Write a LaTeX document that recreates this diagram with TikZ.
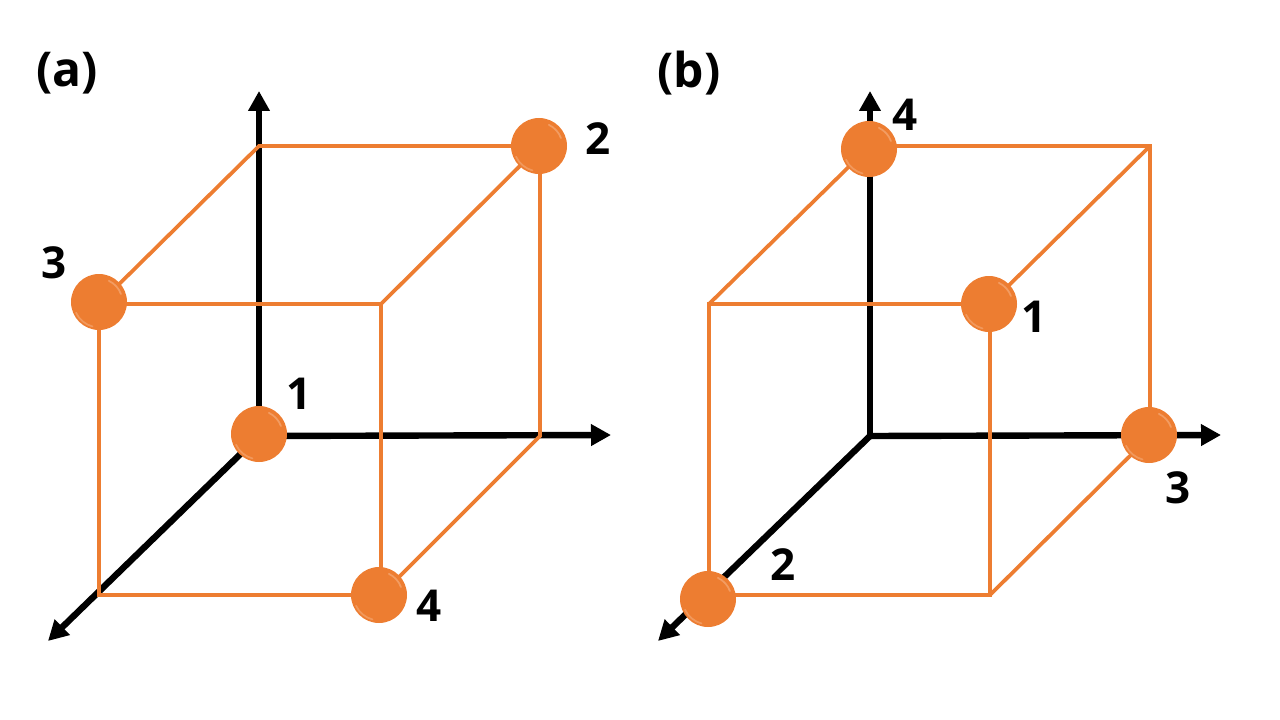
\documentclass[tikz,border=0pt]{standalone}
\usepackage{fontspec}
\setmainfont{Open Sans}
\usetikzlibrary{arrows.meta}
\definecolor{cubeorange}{RGB}{237,125,49}
\definecolor{ballhi}{RGB}{245,170,120}
\tikzset{
  px/.style={x=0.75pt,y=-0.75pt},
  axis/.style={draw=black,line width=4.8pt,-{Triangle[length=15pt,width=15.5pt]}},
  edge/.style={draw=cubeorange,line width=2.8pt,line join=miter},
  ball/.style={circle,fill=cubeorange,minimum size=42pt,inner sep=0pt,outer sep=0pt,
    path picture={
      \draw[ballhi,line width=1.3pt,opacity=.7,line cap=round] (path picture bounding box.center)
        ++(20:17.5pt) arc[start angle=20,end angle=65,radius=17.5pt];
      \draw[ballhi,line width=1.3pt,opacity=.6,line cap=round] (path picture bounding box.center)
        ++(205:19pt) arc[start angle=205,end angle=255,radius=19pt];
    }},
  lab/.style={font=\fontsize{33pt}{36pt}\selectfont\bfseries,text=black,inner sep=0pt},
  head/.style={font=\fontsize{36pt}{40pt}\selectfont\bfseries,text=black,inner sep=0pt}
}
\begin{document}
\begin{tikzpicture}[px]
\useasboundingbox (0,0) rectangle (1280,720);
% ---------- panel (a)
\coordinate (ao) at (259,436);
\coordinate (au) at (259,91);
\coordinate (ar) at (611,435);
\coordinate (ad) at (48,641);
\coordinate (aA) at (99,304);
\coordinate (aB) at (381,304);
\coordinate (aC) at (381,595);
\coordinate (aD) at (99,595);
\coordinate (aE) at (259,146);
\coordinate (aF) at (540,146);
\coordinate (aG) at (540,436);
\draw[axis] (ao) -- (au);
\draw[axis] (ao) -- (ar);
\draw[axis] (ao) -- (ad);
\draw[edge] (aA) -- (aB) -- (aC) -- (aD) -- cycle;
\draw[edge] (aA) -- (aE) -- (aF) -- (aG) -- (aC);
\draw[edge] (aB) -- (aF);
\node[ball] (a1) at (259,434) {};
\node[ball] (a2) at (539,146) {};
\node[ball] (a3) at (99,302) {};
\node[ball] (a4) at (379,595) {};
\node[lab] (la1) at (299,394) {1};
\node[lab] (la2) at (598,139) {2};
\node[lab] (la3) at (54,263) {3};
\node[lab] (la4) at (429,606) {4};
\node[head] (ta) at (67,73) {(a)};
% ---------- panel (b)
\coordinate (bo) at (870,436);
\coordinate (bu) at (870,91);
\coordinate (br) at (1221,435);
\coordinate (bd) at (658,641);
\coordinate (bA) at (709,304);
\coordinate (bB) at (990,304);
\coordinate (bC) at (990,595);
\coordinate (bD) at (709,595);
\coordinate (bE) at (870,146);
\coordinate (bF) at (1150,146);
\coordinate (bG) at (1150,436);
\draw[axis] (bo) -- (bu);
\draw[axis] (bo) -- (br);
\draw[axis] (bo) -- (bd);
\draw[edge] (bA) -- (bB) -- (bC) -- (bD) -- cycle;
\draw[edge] (bA) -- (bE) -- (bF) -- (bG) -- (bC);
\draw[edge] (bB) -- (bF);
\node[ball] (b1) at (989,304) {};
\node[ball] (b2) at (708,599) {};
\node[ball] (b3) at (1149,435) {};
\node[ball] (b4) at (869,149) {};
\node[lab] (lb1) at (1034,317) {1};
\node[lab] (lb2) at (783,565) {2};
\node[lab] (lb3) at (1178,488) {3};
\node[lab] (lb4) at (905,115) {4};
\node[head] (tb) at (689,73) {(b)};
\end{tikzpicture}
\end{document}
